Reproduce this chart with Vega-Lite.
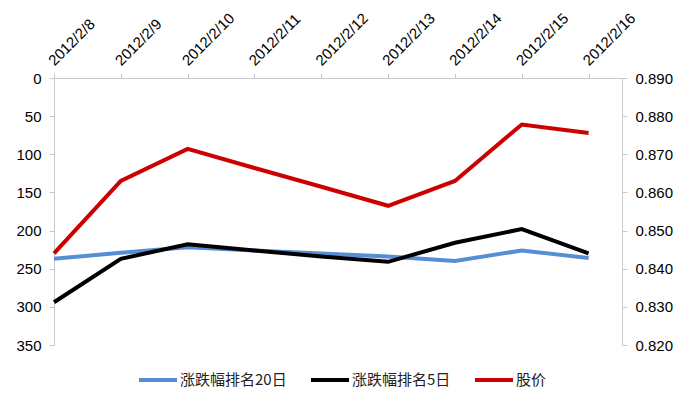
{
  "$schema": "https://vega.github.io/schema/vega-lite/v6.json",
  "width": 568,
  "height": 267,
  "autosize": {"type": "none"},
  "padding": {"left": 54, "top": 78, "right": 65, "bottom": 51},
  "background": "white",
  "config": {
    "view": {"stroke": null},
    "axis": {
      "grid": false,
      "domainColor": "#c8c8c8",
      "tickColor": "#c8c8c8",
      "tickSize": 5,
      "labelFont": "Liberation Sans",
      "labelFontSize": 15,
      "labelColor": "#000000",
      "title": null
    },
    "legend": {
      "labelFont": "Noto Sans CJK SC",
      "labelFontSize": 15,
      "labelColor": "#222222"
    }
  },
  "data": {
    "values": [
      {"date": "2012/2/8", "series": "涨跌幅排名20日", "value": 237},
      {"date": "2012/2/9", "series": "涨跌幅排名20日", "value": 229},
      {"date": "2012/2/10", "series": "涨跌幅排名20日", "value": 222},
      {"date": "2012/2/11", "series": "涨跌幅排名20日", "value": 226},
      {"date": "2012/2/12", "series": "涨跌幅排名20日", "value": 230},
      {"date": "2012/2/13", "series": "涨跌幅排名20日", "value": 234},
      {"date": "2012/2/14", "series": "涨跌幅排名20日", "value": 240},
      {"date": "2012/2/15", "series": "涨跌幅排名20日", "value": 226},
      {"date": "2012/2/16", "series": "涨跌幅排名20日", "value": 236},
      {"date": "2012/2/8", "series": "涨跌幅排名5日", "value": 294},
      {"date": "2012/2/9", "series": "涨跌幅排名5日", "value": 237},
      {"date": "2012/2/10", "series": "涨跌幅排名5日", "value": 218},
      {"date": "2012/2/11", "series": "涨跌幅排名5日", "value": 226},
      {"date": "2012/2/12", "series": "涨跌幅排名5日", "value": 234},
      {"date": "2012/2/13", "series": "涨跌幅排名5日", "value": 241},
      {"date": "2012/2/14", "series": "涨跌幅排名5日", "value": 216},
      {"date": "2012/2/15", "series": "涨跌幅排名5日", "value": 198},
      {"date": "2012/2/16", "series": "涨跌幅排名5日", "value": 230},
      {"date": "2012/2/8", "series": "股价", "value": 0.844},
      {"date": "2012/2/9", "series": "股价", "value": 0.863},
      {"date": "2012/2/10", "series": "股价", "value": 0.8714},
      {"date": "2012/2/11", "series": "股价", "value": 0.8664},
      {"date": "2012/2/12", "series": "股价", "value": 0.8615},
      {"date": "2012/2/13", "series": "股价", "value": 0.8565},
      {"date": "2012/2/14", "series": "股价", "value": 0.863},
      {"date": "2012/2/15", "series": "股价", "value": 0.8778},
      {"date": "2012/2/16", "series": "股价", "value": 0.8756}
    ]
  },
  "encoding": {
    "x": {
      "field": "date",
      "type": "ordinal",
      "sort": null,
      "scale": {"type": "point", "padding": 0.25, "align": 0},
      "axis": {
        "orient": "top",
        "labelAngle": -45,
        "labelAlign": "left",
        "labelBaseline": "alphabetic",
        "labelPadding": 7,
        "labelFontSize": 15
      }
    },
    "color": {
      "field": "series",
      "type": "nominal",
      "scale": {
        "domain": ["涨跌幅排名20日", "涨跌幅排名5日", "股价"],
        "range": ["#558ed5", "#000000", "#cc0000"]
      },
      "legend": {
        "title": null,
        "orient": "none",
        "direction": "horizontal",
        "legendX": 83,
        "legendY": 281,
        "symbolType": "stroke",
        "symbolSize": 1444,
        "symbolStrokeWidth": 4,
        "labelOffset": 1,
        "columnPadding": 16
      }
    }
  },
  "layer": [
    {
      "transform": [{"filter": "datum.series !== '股价'"}],
      "mark": {"type": "line", "strokeWidth": 4},
      "encoding": {
        "y": {
          "field": "value",
          "type": "quantitative",
          "scale": {"domain": [0, 350], "reverse": true, "nice": false},
          "axis": {"orient": "left", "values": [0, 50, 100, 150, 200, 250, 300, 350], "labelPadding": 8}
        }
      }
    },
    {
      "transform": [{"filter": "datum.series === '股价'"}],
      "mark": {"type": "line", "strokeWidth": 4},
      "encoding": {
        "y": {
          "field": "value",
          "type": "quantitative",
          "scale": {"domain": [0.82, 0.89], "nice": false, "zero": false},
          "axis": {"orient": "right", "format": ".3f", "values": [0.82, 0.83, 0.84, 0.85, 0.86, 0.87, 0.88, 0.89], "labelPadding": 8}
        }
      }
    }
  ],
  "resolve": {"scale": {"y": "independent"}}
}
